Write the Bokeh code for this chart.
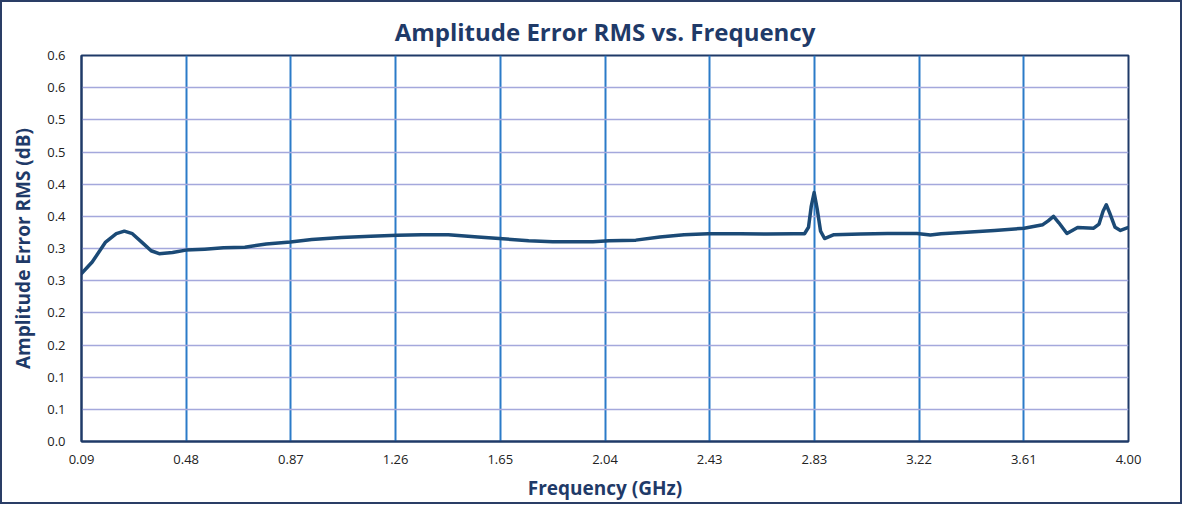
import numpy as np
from bokeh.plotting import figure
from bokeh.models import FixedTicker, Range1d
from bokeh.embed import file_html
from bokeh.resources import INLINE

freq_ghz = [0.09, 0.13, 0.18, 0.22, 0.25, 0.28, 0.32, 0.35, 0.38, 0.43, 0.48, 0.55, 0.62,
            0.70, 0.78, 0.87, 0.95, 1.06, 1.17, 1.27, 1.36, 1.46, 1.57, 1.65, 1.76, 1.85,
            1.93, 2.00, 2.06, 2.16, 2.25, 2.34, 2.43, 2.55, 2.65, 2.75, 2.79, 2.805, 2.815,
            2.826, 2.838, 2.85, 2.865, 2.88, 2.90, 3.00, 3.10, 3.21, 3.26, 3.30, 3.38, 3.50,
            3.61, 3.68, 3.70, 3.72, 3.74, 3.77, 3.81, 3.87, 3.89, 3.905, 3.917, 3.93, 3.95,
            3.97, 4.00]
amp_err_rms_db = [0.261, 0.279, 0.310, 0.323, 0.327, 0.323, 0.308, 0.2965, 0.292, 0.2938,
                  0.2975, 0.299, 0.301, 0.302, 0.307, 0.310, 0.314, 0.317, 0.319, 0.3206,
                  0.3215, 0.3215, 0.318, 0.3155, 0.312, 0.3105, 0.3105, 0.3105, 0.312, 0.313,
                  0.318, 0.3215, 0.323, 0.323, 0.3225, 0.323, 0.323, 0.333, 0.365, 0.387,
                  0.360, 0.327, 0.3155, 0.318, 0.3215, 0.3225, 0.3233, 0.3234, 0.321, 0.323,
                  0.325, 0.328, 0.3316, 0.337, 0.343, 0.350, 0.340, 0.3233, 0.3328, 0.3316,
                  0.338, 0.358, 0.368, 0.355, 0.333, 0.328, 0.333]

x_tick_values = [0.09, 0.481, 0.872, 1.263, 1.654, 2.045, 2.436, 2.827, 3.218, 3.609, 4.00]
x_tick_labels = ["0.09", "0.48", "0.87", "1.26", "1.65", "2.04", "2.43", "2.83", "3.22", "3.61", "4.00"]
y_tick_values = [0.0, 0.05, 0.10, 0.15, 0.20, 0.25, 0.30, 0.35, 0.40, 0.45, 0.50, 0.55, 0.60]
y_tick_labels = ["0.0", "0.1", "0.1", "0.2", "0.2", "0.3", "0.3", "0.4", "0.4", "0.5", "0.5", "0.6", "0.6"]

NAVY = "#1f3a68"
FONT = "Open Sans"

p = figure(width=1182, height=504, output_backend="svg", toolbar_location=None,
           x_range=Range1d(0.09, 4.00), y_range=Range1d(0.0, 0.6),
           min_border_left=79, min_border_right=56, min_border_top=53, min_border_bottom=65,
           title="Amplitude Error RMS vs. Frequency")

p.styles = {"border": "2px solid #2a3d66"}

p.title.text_font = FONT
p.title.text_font_size = "24px"
p.title.text_font_style = "bold"
p.title.text_color = NAVY
p.title.align = "center"
p.title.standoff = 16

p.outline_line_color = NAVY
p.outline_line_width = 2

p.xaxis.ticker = FixedTicker(ticks=x_tick_values)
p.xaxis.major_label_overrides = {v: l for v, l in zip(x_tick_values, x_tick_labels)}
p.yaxis.ticker = FixedTicker(ticks=y_tick_values)
p.yaxis.major_label_overrides = {v: l for v, l in zip(y_tick_values, y_tick_labels)}

for ax in (p.xaxis, p.yaxis):
    ax.major_tick_line_color = None
    ax.minor_tick_line_color = None
    ax.axis_line_color = NAVY
    ax.axis_line_width = 2
    ax.major_label_text_font = FONT
    ax.major_label_text_font_size = "13px"
    ax.major_label_text_color = "#222222"
    ax.axis_label_text_font = FONT
    ax.axis_label_text_font_style = "bold"
    ax.axis_label_text_color = NAVY
    ax.axis_label_text_font_size = "19px"

p.xaxis.axis_label = "Frequency (GHz)"
p.yaxis.axis_label = "Amplitude Error RMS (dB)"
p.xaxis.major_label_standoff = 7
p.yaxis.major_label_standoff = 10
p.xaxis.axis_label_standoff = 8
p.yaxis.axis_label_standoff = 8

p.xgrid.grid_line_color = "#2b7bc8"
p.xgrid.grid_line_width = 2
p.ygrid.grid_line_color = "#a4a8dc"
p.ygrid.grid_line_width = 1.3

p.line(freq_ghz, amp_err_rms_db, line_color="#1b4a76", line_width=3.5,
       line_join="round", line_cap="round")

open("out.html", "w").write(file_html(p, INLINE))
